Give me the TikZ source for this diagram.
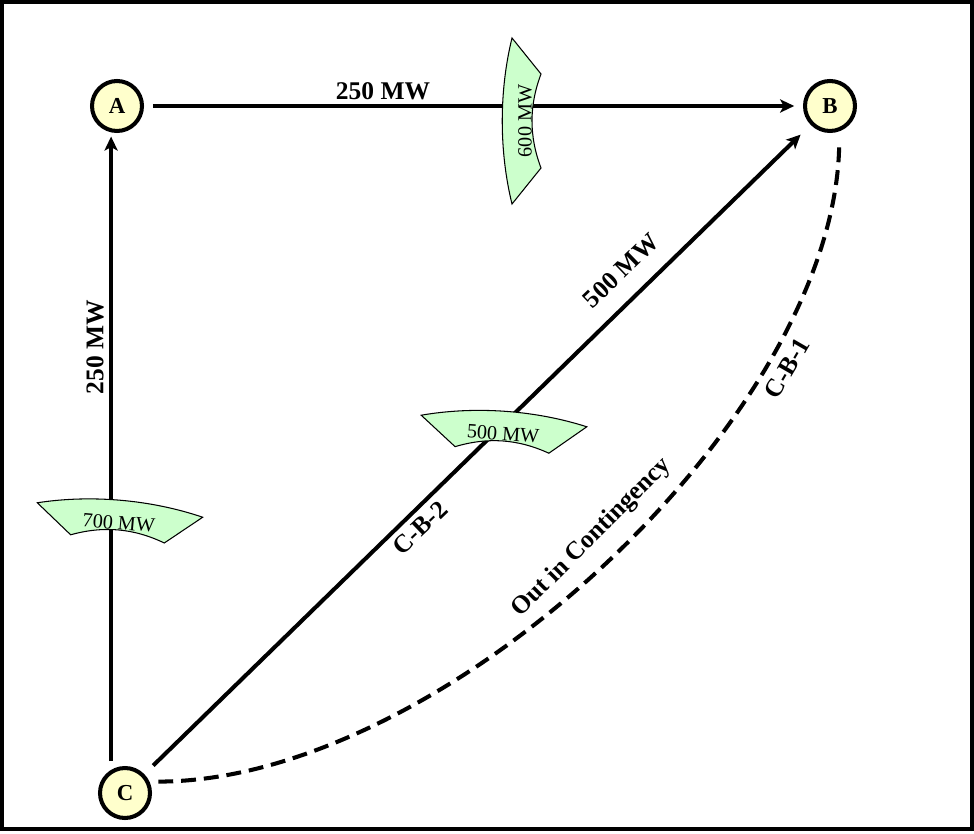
\documentclass[tikz,border=0pt]{standalone}
\usepackage{fontspec}
\setmainfont{Liberation Serif}
\usetikzlibrary{arrows.meta}
\definecolor{busyellow}{HTML}{FFFFCC}
\definecolor{gategreen}{HTML}{CCFFCC}
\tikzset{
  bus/.style={circle, draw, line width=2.3pt, fill=busyellow, minimum size=1cm,
    inner sep=0pt, font=\fontsize{13}{15}\selectfont\bfseries},
  flow/.style={line width=2.3pt, -{Stealth[length=8pt,width=7.5pt,inset=2pt]}},
  outage/.style={line width=2.3pt, dash pattern=on 8.5pt off 4.5pt},
  lbl/.style={font=\fontsize{14.5}{17}\selectfont\bfseries, inner sep=0pt},
  gate/.pic={
    \draw[line width=0.6pt, fill=gategreen] (-83,0) .. controls (-30,13) and (30,13) .. (83,0)
      -- (47,-29) .. controls (15,-17) and (-15,-17) .. (-47,-29) -- cycle;
    \node[transform shape, inner sep=0pt, font=\fontsize{11.5}{13}\selectfont] (-txt) at (0,-13) {#1};
  }
}
\begin{document}
\begin{tikzpicture}[x=0.02cm, y=0.02cm]
  \useasboundingbox (0,0) rectangle (974,833);
  \draw[line width=2.2pt] (2,4) rectangle (972,831);
  % buses
  \foreach \n/\x/\y in {A/117/727, B/830/727, C/125/40}{
    \node[bus] (\n) at (\x, \y) {\n};
  }
  % lines
  \draw[flow, shorten <=5pt, shorten >=5pt] (A) -- (B);
  \draw[flow, shorten <=5pt, shorten >=2pt] (C.121) -- (C.121 |- A.south);
  \draw[flow, shorten <=7pt, shorten >=8pt] (C) -- (B);
  \draw[outage, shorten <=5pt, shorten >=5pt] (C.25) .. controls +(295,0) and +(0,-282) .. (B.290);
  % labels
  \node[lbl] (lAB) at (383, 742) {250 MW};
  \node[lbl, rotate=90] (lCA) at (95, 486) {250 MW};
  \node[lbl, rotate=44] (lCBflow) at (621, 562) {500 MW};
  \node[lbl, rotate=44] (lCB2) at (420, 305) {C-B-2};
  \node[lbl, rotate=45] (lOut) at (592, 295) {Out in Contingency};
  \node[lbl, rotate=60] (lCB1) at (787, 465) {C-B-1};
  % flowgates
  \foreach \g/\x/\y/\r in {600/512/712/90, 700/120/323/-5, 500/504/412/-4}{
    \pic[rotate=\r] (g\g) at (\x, \y) {gate={\g~MW}};
  }
\end{tikzpicture}
\end{document}
